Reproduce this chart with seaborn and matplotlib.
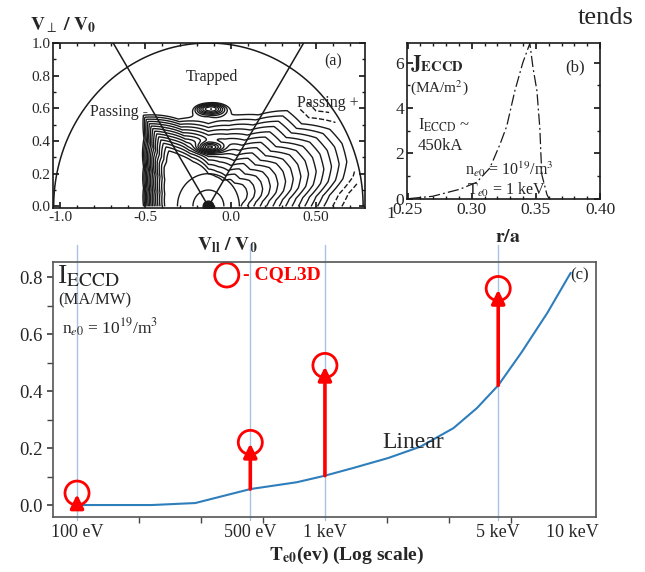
import numpy as np
import matplotlib
matplotlib.use('Agg')
import matplotlib.pyplot as plt
from matplotlib.ticker import MultipleLocator, NullFormatter
import seaborn as sns

# ---- panel (a): distribution function contours ----
# centre of the velocity-space half circle (in the axis' own tick units)
par_center = -0.13
circle_rx = 0.91
circle_ry = 1.0
trap_slope = 0.56          # trapped / passing boundary, dv_par per dv_perp
# outer edge of the contoured region, polar (deg, radius) about the centre
bound_theta = [0, 5, 11, 17, 24, 31, 40, 49, 60, 75, 90, 110, 127, 135, 150, 165, 180]
bound_radius = [0.75, 0.79, 0.89, 0.94, 0.95, 0.92, 0.79, 0.78, 0.65, 0.57, 0.53, 0.57,
                0.70, 0.59, 0.485, 0.435, 0.42]
# how strongly contours pile up at the edge
steep_theta = [0, 60, 90, 120, 140, 180]
steep_power = [1.0, 1.0, 1.3, 2.2, 3.2, 3.2]
contour_levels = [0.28, 0.335, 0.39, 0.445, 0.50, 0.555, 0.61, 0.665, 0.72, 0.775,
                  0.83, 0.885, 0.94, 0.995]
dashed_levels = [1.07, 1.15]
center_circles = [0.10, 0.20]
# (u, w, width_u, width_w, amplitude) of the dense spots in the trapped zone
trap_spots = [(0.01, 0.60, 0.10, 0.04, -0.55), (0.01, 0.36, 0.08, 0.03, 0.35)]

# ---- panel (b): current density profile ----
r_over_a = [0.2516, 0.2695, 0.2906, 0.3039, 0.3141, 0.3219, 0.3273, 0.3336, 0.3398,
            0.3453, 0.3477, 0.3508, 0.3531, 0.3539, 0.3547, 0.3586, 0.3602]
j_eccd = [0.0, 0.1, 0.41, 0.72, 1.35, 2.38, 3.2, 4.76, 6.0, 6.85, 5.8, 4.76, 3.1, 1.97,
          1.04, 0.18, 0.0]

# ---- panel (c): efficiency vs temperature ----
lin_te = [100, 200, 300, 500, 770, 1000, 1300, 1800, 2430, 3300, 4100, 5000, 6200, 7900, 9800]
lin_i = [0.0, 0.0, 0.007, 0.056, 0.08, 0.103, 0.13, 0.165, 0.205, 0.27, 0.34, 0.42, 0.535, 0.675, 0.815]
cql_te = [100, 500, 1000, 5000]
cql_i = [0.042, 0.22, 0.49, 0.76]
cql_base = [0.0, 0.056, 0.103, 0.42]
te_ticks = [100, 500, 1000, 5000, 10000]
te_labels = ['100 eV', '500 eV', '1 keV', '5 keV', '10 keV']
te_minor = [100, 178, 316, 562, 1000, 1778, 3162, 5623, 10000]

sns.set_theme(style='ticks')
plt.rcParams['font.family'] = ['Liberation Serif', 'DejaVu Serif']
plt.rcParams['mathtext.fontset'] = 'stix'
plt.rcParams['axes.linewidth'] = 1.2

fig = plt.figure(figsize=(6.45, 5.72), dpi=100)
W, H = 645.0, 572.0


def box(left, top, right, bottom):
    return [left / W, 1 - bottom / H, (right - left) / W, (bottom - top) / H]


# ================= (a) =================
ax_a = fig.add_axes(box(53, 43, 365, 208))
u = np.linspace(-1, 1, 600)
w = np.linspace(0, 1, 300)
U, V = np.meshgrid(u, w)
r = np.hypot(U, V)
th = np.degrees(np.arctan2(V, U))
G = (r / np.interp(th, bound_theta, bound_radius)) ** np.interp(th, steep_theta, steep_power)
for su0, sw0, su, sw, amp in trap_spots:
    G = G + amp * np.exp(-((U - su0) / su) ** 2 - ((V - sw0) / sw) ** 2)
X = par_center + circle_rx * U
ax_a.contour(X, V, G, levels=contour_levels, colors='k', linewidths=1.0)
G2 = np.where((th < 45) & (r < 0.97), G, np.nan)
ax_a.contour(X, V, G2, levels=dashed_levels, colors='k', linewidths=1.0, linestyles='--')
ax_a.contour(X, V, r, levels=center_circles, colors='k', linewidths=1.0)
ax_a.scatter([par_center], [0], s=60, color='k', zorder=5)

phi = np.linspace(0, np.pi, 200)
ax_a.plot(par_center + circle_rx * np.cos(phi), circle_ry * np.sin(phi), color='k', lw=1.1)
vp = np.array([0, 1.1])
ax_a.plot(par_center - trap_slope * vp, vp, color='k', lw=1.1)
ax_a.plot(par_center + trap_slope * vp, vp, color='k', lw=1.1)

ax_a.set_xlim(-1.044, 0.791)
ax_a.set_ylim(-0.01, 1.0)
ax_a.set_xticks([-1.0, -0.5, 0.0, 0.5], ['-1.0', '-0.5', '0.0', '0.50'])
ax_a.set_yticks([0, 0.2, 0.4, 0.6, 0.8, 1.0], ['0.0', '0.2', '0.4', '0.6', '0.8', '1.0'])
ax_a.xaxis.set_minor_locator(MultipleLocator(0.1))
ax_a.yaxis.set_minor_locator(MultipleLocator(0.1))
ax_a.tick_params(which='both', direction='in', top=True, right=True, labelsize=11,
                 color='k', pad=2)
ax_a.tick_params(which='major', length=4)
ax_a.tick_params(which='minor', length=2.5)
for s in ax_a.spines.values():
    s.set_color('k')
ax_a.text(-0.109, 0.79, 'Trapped', ha='center', va='center', fontsize=11.5)
ax_a.text(-0.656, 0.58, 'Passing -', ha='center', va='center', fontsize=11.5)
ax_a.text(0.573, 0.63, 'Passing +', ha='center', va='center', fontsize=11.5)
ax_a.text(0.603, 0.885, '(a)', ha='center', va='center', fontsize=11.5)
ax_a.text(-0.074, 1.11, r'$\mathbf{V}_{\perp}\ \mathbf{/}\ \mathbf{V}_{\mathbf{0}}$',
          transform=ax_a.transAxes, ha='left', va='center', fontsize=14)
ax_a.text(0.558, -0.224, r'$\mathbf{V}_{\mathbf{ll}}\ \mathbf{/}\ \mathbf{V}_{\mathbf{0}}$',
          transform=ax_a.transAxes, ha='center', va='center', fontsize=14)

# ================= (b) =================
ax_b = fig.add_axes(box(407, 43, 600, 199))
sns.lineplot(x=r_over_a, y=j_eccd, ax=ax_b, color='k', lw=0.9,
             linestyle=(0, (9, 2.5, 1.5, 2.5)))
ax_b.set_xlim(0.2495, 0.40)
ax_b.set_ylim(-0.02, 6.87)
ax_b.set_xticks([0.25, 0.30, 0.35, 0.40], ['0.25', '0.30', '0.35', '0.40'])
ax_b.set_yticks([0, 2, 4, 6])
ax_b.xaxis.set_minor_locator(MultipleLocator(0.01))
ax_b.yaxis.set_minor_locator(MultipleLocator(1))
ax_b.tick_params(which='both', direction='in', top=True, right=True, labelsize=12.5,
                 color='k', pad=2)
ax_b.tick_params(which='major', length=4)
ax_b.tick_params(which='minor', length=2.5)
for s in ax_b.spines.values():
    s.set_color('k')
ax_b.text(-0.105, -0.045, '1', transform=ax_b.transAxes, ha='left', va='top', fontsize=12.5)
ax_b.text(0.016, 0.83, r'$\mathbf{J}_{\mathbf{ECCD}}$', transform=ax_b.transAxes,
          ha='left', va='baseline', fontsize=15)
ax_b.text(0.016, 0.69, r'(MA/m$^2$)', transform=ax_b.transAxes,
          ha='left', va='baseline', fontsize=11)
ax_b.text(0.057, 0.442, r'I$_{\mathrm{ECCD}}$ ~', transform=ax_b.transAxes,
          ha='left', va='baseline', fontsize=12)
ax_b.text(0.057, 0.314, '450kA', transform=ax_b.transAxes,
          ha='left', va='baseline', fontsize=12)
ax_b.text(0.30, 0.154, r'n$_{e0}$ = 10$^{19}$/m$^3$', transform=ax_b.transAxes,
          ha='left', va='baseline', fontsize=11.5)
ax_b.text(0.31, 0.026, r'T$_{e0}$ = 1 keV', transform=ax_b.transAxes,
          ha='left', va='baseline', fontsize=11.5)
ax_b.text(0.87, 0.82, '(b)', transform=ax_b.transAxes, ha='center', va='baseline', fontsize=12)
ax_b.text(0.52, -0.244, r'$\mathbf{r/a}$', transform=ax_b.transAxes,
          ha='center', va='center', fontsize=14)

# ================= (c) =================
ax_c = fig.add_axes(box(53, 262, 596, 517))
ax_c.set_xscale('log')
for t in cql_te:
    ax_c.axvline(t, ymin=-0.012, ymax=1.067, color='#a9c1e4', lw=1.0, clip_on=False, zorder=0)
sns.lineplot(x=lin_te, y=lin_i, ax=ax_c, color='#2f7ebc', lw=1.5)
for t, b, c in zip(cql_te, cql_base, cql_i):
    ax_c.annotate('', xy=(t, c - 0.004), xytext=(t, b),
                  arrowprops=dict(arrowstyle='-|>,head_length=0.45,head_width=0.22',
                                  color='red', lw=2.6, shrinkA=0, shrinkB=0,
                                  mutation_scale=18))
ax_c.scatter(cql_te, cql_i, s=300, facecolors='none', edgecolors='red', linewidths=2.0, zorder=4)
ax_c.scatter([0.32], [0.949], s=300, facecolors='none', edgecolors='red', linewidths=2.0,
             transform=ax_c.transAxes, clip_on=False)
ax_c.text(0.35, 0.949, '- CQL3D', transform=ax_c.transAxes, color='red',
          fontweight='bold', ha='left', va='center', fontsize=14)

ax_c.set_xlim(80, 12400)
ax_c.set_ylim(-0.042, 0.853)
ax_c.set_xticks(te_ticks, te_labels)
ax_c.set_xticks(te_minor, minor=True)
ax_c.xaxis.set_minor_formatter(NullFormatter())
ax_c.tick_params(axis='x', which='major', length=0, labelsize=13, pad=5)
ax_c.tick_params(axis='x', which='minor', length=4, direction='out', color='#444')
ax_c.set_yticks([0, 0.2, 0.4, 0.6, 0.8], ['0.0', '0.2', '0.4', '0.6', '0.8'])
ax_c.yaxis.set_minor_locator(MultipleLocator(0.1))
ax_c.tick_params(axis='y', which='both', direction='out', labelsize=13.5, color='#444')
ax_c.tick_params(axis='y', which='major', length=4)
ax_c.tick_params(axis='y', which='minor', length=4)
for s in ax_c.spines.values():
    s.set_color('#555')
ax_c.set_xlabel('')
ax_c.set_ylabel('')
ax_c.text(0.007, 0.992, r'I$_{\mathrm{ECCD}}$', transform=ax_c.transAxes,
          ha='left', va='top', fontsize=20)
ax_c.text(0.009, 0.851, '(MA/MW)', transform=ax_c.transAxes, ha='left', va='center', fontsize=12)
ax_c.text(0.017, 0.741, r'n$_{e0}$ = 10$^{19}$/m$^3$', transform=ax_c.transAxes,
          ha='left', va='center', fontsize=12.5)
ax_c.text(0.97, 0.949, '(c)', transform=ax_c.transAxes, ha='center', va='center', fontsize=12)
ax_c.text(0.663, 0.294, 'Linear', transform=ax_c.transAxes, ha='center', va='center', fontsize=17)
ax_c.text(0.541, -0.15, r'$\mathbf{T}_{\mathbf{e0}}$(ev) (Log scale)', transform=ax_c.transAxes,
          ha='center', va='center', fontsize=14, fontweight='bold')

fig.text(0.982, 0.968, 'tends', ha='right', va='center', fontsize=19)

fig.savefig('out.png', dpi=100)
